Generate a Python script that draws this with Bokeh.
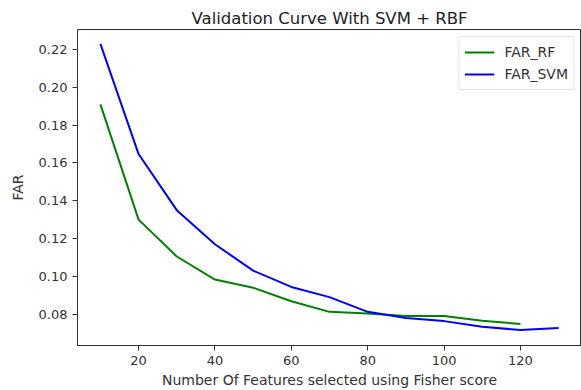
from bokeh.plotting import figure
from bokeh.models import FixedTicker, NumeralTickFormatter, Range1d, Legend, LegendItem
from bokeh.embed import file_html
from bokeh.resources import INLINE

features_rf = [10, 20, 30, 40, 50, 60, 70, 80, 90, 100, 110, 120]
far_rf = [0.191, 0.130, 0.1105, 0.0983, 0.094, 0.0868, 0.0812, 0.0803, 0.079, 0.079, 0.0765, 0.0748]
features_svm = [10, 20, 30, 40, 50, 60, 70, 80, 90, 100, 110, 120, 130]
far_svm = [0.223, 0.1647, 0.135, 0.117, 0.103, 0.0944, 0.089, 0.0812, 0.0779, 0.0763, 0.0733, 0.0716, 0.0726]
x_ticks = [20, 40, 60, 80, 100, 120]
y_ticks = [0.08, 0.10, 0.12, 0.14, 0.16, 0.18, 0.20, 0.22]

FONT = "DejaVu Sans"

p = figure(width=581, height=390, output_backend="svg", toolbar_location=None,
           x_range=Range1d(4, 136), y_range=Range1d(0.0634, 0.2306),
           min_border_left=77, min_border_right=0, min_border_top=29, min_border_bottom=45,
           title="Validation Curve With SVM + RBF")

p.title.align = "center"
p.title.text_font = FONT
p.title.text_font_size = "16.5px"
p.title.text_font_style = "normal"
p.title.text_color = "#222222"
p.title.standoff = 4

r_rf = p.line(features_rf, far_rf, line_color="green", line_width=2)
r_svm = p.line(features_svm, far_svm, line_color="blue", line_width=2)

p.xgrid.visible = False
p.ygrid.visible = False
p.outline_line_color = "#333333"
p.outline_line_width = 1

for ax in (p.xaxis, p.yaxis):
    ax.major_tick_in = 0
    ax.major_tick_out = 5
    ax.minor_tick_line_color = None
    ax.axis_line_color = "#333333"
    ax.major_tick_line_color = "#333333"
    ax.major_label_text_font = FONT
    ax.major_label_text_font_size = "13px"
    ax.major_label_text_color = "#333333"
    ax.axis_label_text_font = FONT
    ax.axis_label_text_font_size = "14px"
    ax.axis_label_text_font_style = "normal"
    ax.axis_label_text_color = "#333333"

p.xaxis.ticker = FixedTicker(ticks=x_ticks)
p.yaxis.ticker = FixedTicker(ticks=y_ticks)
p.yaxis.formatter = NumeralTickFormatter(format="0.00")
p.xaxis.axis_label = "Number Of Features selected using Fisher score"
p.yaxis.axis_label = "FAR"
p.xaxis.axis_label_standoff = 4
p.yaxis.axis_label_standoff = 10

legend = Legend(items=[LegendItem(label="FAR_RF", renderers=[r_rf]),
                       LegendItem(label="FAR_SVM", renderers=[r_svm])],
                location="top_right", margin=7, padding=5, spacing=2,
                glyph_width=30, glyph_height=20, label_height=20,
                label_standoff=10, label_text_font=FONT, label_text_font_size="14px",
                label_text_color="#333333",
                border_line_color="#cccccc", background_fill_alpha=0.9)
p.add_layout(legend)

open("out.html", "w").write(file_html(p, INLINE))
